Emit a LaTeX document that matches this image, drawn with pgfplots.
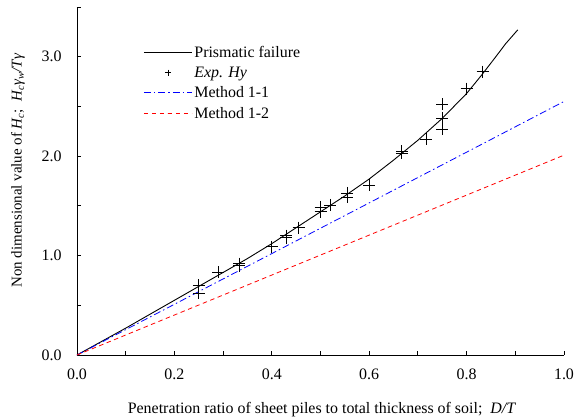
\documentclass[border=0pt]{standalone}
\usepackage{fontspec}
\setmainfont{Liberation Serif}
\usepackage{pgfplots}
\pgfplotsset{compat=1.18}

\begin{document}
\begin{tikzpicture}
\useasboundingbox (-77bp,-65bp) rectangle (504bp,355bp);
\begin{axis}[
    width=487bp, height=348bp,
    scale only axis,
    axis lines=left,
    axis line style={-, line width=0.9pt},
    xmin=0, xmax=1.0, ymin=0, ymax=3.5,
    xtick={0,0.2,...,1.0},
    minor xtick={0.1,0.3,0.5,0.7,0.9},
    ytick={0,1,2,3},
    minor ytick={0.5,1.5,2.5,3.5},
    tick align=inside,
    major tick length=4bp, minor tick length=4bp,
    tick style={line width=0.9pt, black},
    /pgf/number format/assume math mode=true,
    /pgf/number format/.cd, fixed, fixed zerofill, precision=1,
    /pgfplots/.cd,
    ticklabel style={font=\fontsize{16}{18}\selectfont},
    xticklabel style={yshift=-10bp},
    yticklabel style={xshift=-12bp},
    xlabel={Penetration ratio of sheet piles to total thickness of soil;\enspace\textit{D/T}},
    ylabel={Non dimensional value of \textit{H\textsubscript{c}};\enspace\textit{H\textsubscript{c}γ\textsubscript{w}/Tγ}},
    every axis x label/.style={at={(axis description cs:0.503,-0.158)}, anchor=center,
        font=\fontsize{16}{18}\selectfont},
    every axis y label/.style={at={(axis description cs:-0.121,0.53)}, rotate=90, anchor=center,
        font=\fontsize{15}{17}\selectfont},
    legend style={at={(axis description cs:0.13,0.90)}, anchor=north west,
        draw=none, fill=none, font=\fontsize{16}{18}\selectfont,
        row sep=4bp, cells={anchor=west},
        /tikz/every even column/.append style={column sep=3bp}},
    legend image code/.code={\draw[mark repeat=2,mark phase=2,#1]
        plot coordinates {(0bp,0bp) (24bp,0bp) (48bp,0bp)};},
    clip=false,
]
% prismatic failure curve
\addplot[black, line width=0.9pt] coordinates {
    (0,0)(0.05,0.135)(0.1,0.27)(0.15,0.41)(0.2,0.55)(0.25,0.69)(0.3,0.83)
    (0.35,0.97)(0.4,1.12)(0.45,1.28)(0.5,1.44)(0.55,1.60)(0.6,1.77)
    (0.65,1.96)(0.7,2.16)(0.75,2.38)(0.8,2.63)(0.83,2.81)(0.86,3.00)
    (0.88,3.13)(0.905,3.27)};
\addlegendentry{Prismatic failure}
% experiments
\addplot[only marks, mark=+, mark size=6bp, black, line width=0.7pt, forget plot] coordinates {
    (0.25,0.70)(0.25,0.62)(0.29,0.83)(0.333,0.92)(0.333,0.90)(0.40,1.09)
    (0.43,1.20)(0.43,1.18)(0.455,1.28)(0.50,1.49)(0.50,1.44)(0.52,1.51)
    (0.555,1.63)(0.555,1.59)(0.60,1.71)(0.667,2.05)(0.667,2.03)(0.717,2.17)
    (0.75,2.52)(0.75,2.38)(0.75,2.27)(0.80,2.68)(0.833,2.85)};
\addlegendimage{only marks, mark=+, mark size=3bp, black, line width=0.8pt}
\addlegendentry{\textit{Exp. Hy}}
% method 1-1
\addplot[blue, line width=0.8pt, dash pattern=on 7bp off 3bp on 1.5bp off 3bp] coordinates {
    (0,0)(1.0,2.55)};
\addlegendentry{Method 1-1}
% method 1-2
\addplot[red, line width=0.8pt, dash pattern=on 4.5bp off 3.5bp] coordinates {
    (0,0)(1.0,2.01)};
\addlegendentry{Method 1-2}
\end{axis}
\end{tikzpicture}
\end{document}
